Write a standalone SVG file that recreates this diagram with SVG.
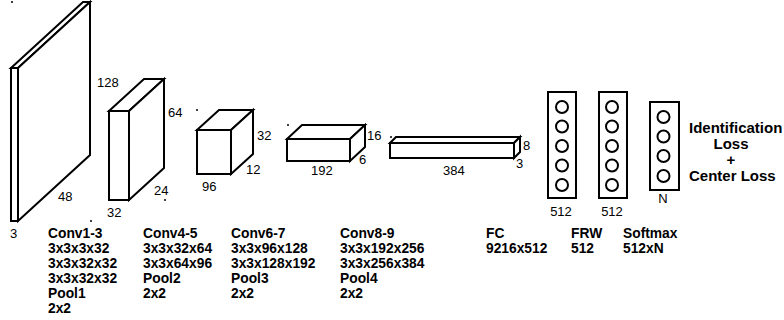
<svg xmlns="http://www.w3.org/2000/svg" width="784" height="320" viewBox="0 0 784 320">
<style>
.f{fill:#fff;stroke:#000;stroke-width:2;stroke-linejoin:miter}
.c{fill:#fff;stroke:#000;stroke-width:2}
.d{font-family:"Liberation Sans",Arial,sans-serif;font-size:13px;fill:#000}
.b{font-family:"Liberation Sans",Arial,sans-serif;font-size:13.8px;font-weight:bold;fill:#000}
.L{font-family:"Liberation Sans",Arial,sans-serif;font-size:15px;font-weight:bold;fill:#000}
.m{text-anchor:middle}
.dot{fill:#000}
</style>
<rect width="784" height="320" fill="#fff"/>
<g id="connectors"></g>
<g id="input">
<polygon class="f" points="11,68 83,2 90,2 18,68"/>
<polygon class="f" points="18,68 90,2 90,155 18,221"/>
<rect class="f" x="11" y="68" width="7" height="153"/>
<text class="d" x="97" y="87">128</text>
<text class="d" x="58" y="201">48</text>
<text class="d" x="10" y="238">3</text>
</g>
<g id="conv1">
<polygon class="f" points="109,111 144,79 164,79 129,111"/>
<polygon class="f" points="129,111 164,79 164,168 129,200"/>
<rect class="f" x="109" y="111" width="20" height="89"/>
<text class="d" x="168" y="117">64</text>
<text class="d" x="154" y="195">24</text>
<text class="d" x="107" y="217">32</text>
</g>
<g id="conv2">
<polygon class="f" points="197,130 219,110 253,110 231,130"/>
<polygon class="f" points="231,130 253,110 253,154 231,174"/>
<rect class="f" x="197" y="130" width="34" height="44"/>
<text class="d" x="257" y="140">32</text>
<text class="d" x="246" y="174">12</text>
<text class="d" x="202" y="191">96</text>
</g>
<g id="conv3">
<polygon class="f" points="287,139 302,125 365,125 350,139"/>
<polygon class="f" points="350,139 365,125 365,147 350,161"/>
<rect class="f" x="287" y="139" width="63" height="22"/>
<text class="d" x="367" y="140">16</text>
<text class="d" x="359" y="164">6</text>
<text class="d" x="311" y="175">192</text>
</g>
<g id="conv4">
<polygon class="f" points="390,143 396,137 520,137 514,143"/>
<polygon class="f" points="514,143 520,137 520,152 514,158"/>
<rect class="f" x="390" y="143" width="124" height="15"/>
<text class="d" x="523" y="150">8</text>
<text class="d" x="516" y="168">3</text>
<text class="d" x="443" y="175">384</text>
</g>
<g id="fc">
<rect class="f" x="548" y="92" width="28" height="106"/>
<circle class="c" cx="562" cy="107" r="6"/>
<circle class="c" cx="562" cy="126.5" r="6"/>
<circle class="c" cx="562" cy="146" r="6"/>
<circle class="c" cx="562" cy="165.5" r="6"/>
<circle class="c" cx="562" cy="185" r="6"/>
<text class="d m" x="561" y="216">512</text>
</g>
<g id="frw">
<rect class="f" x="599" y="92" width="28" height="106"/>
<circle class="c" cx="612" cy="107" r="6"/>
<circle class="c" cx="612" cy="126.5" r="6"/>
<circle class="c" cx="612" cy="146" r="6"/>
<circle class="c" cx="612" cy="165.5" r="6"/>
<circle class="c" cx="612" cy="185" r="6"/>
<text class="d m" x="612" y="216">512</text>
</g>
<g id="softmax">
<rect class="f" x="650" y="102" width="29" height="88"/>
<circle class="c" cx="663.5" cy="117" r="6"/>
<circle class="c" cx="663.5" cy="136.5" r="6"/>
<circle class="c" cx="663.5" cy="156" r="6"/>
<circle class="c" cx="663.5" cy="176" r="6"/>
<text class="d m" x="663" y="203">N</text>
</g>
<g id="loss">
<text class="L" x="689" y="133">Identification</text>
<text class="L m" x="731" y="149">Loss</text>
<text class="L m" x="731" y="165">+</text>
<text class="L" x="689" y="181">Center Loss</text>
</g>
<g id="specs">
<text class="b" x="48" y="238">Conv1-3</text>
<text class="b" x="48" y="253">3x3x3x32</text>
<text class="b" x="48" y="268">3x3x32x32</text>
<text class="b" x="48" y="283">3x3x32x32</text>
<text class="b" x="48" y="298">Pool1</text>
<text class="b" x="48" y="313">2x2</text>
<text class="b" x="143" y="238">Conv4-5</text>
<text class="b" x="143" y="253">3x3x32x64</text>
<text class="b" x="143" y="268">3x3x64x96</text>
<text class="b" x="143" y="283">Pool2</text>
<text class="b" x="143" y="298">2x2</text>
<text class="b" x="231" y="238">Conv6-7</text>
<text class="b" x="231" y="253">3x3x96x128</text>
<text class="b" x="231" y="268">3x3x128x192</text>
<text class="b" x="231" y="283">Pool3</text>
<text class="b" x="231" y="298">2x2</text>
<text class="b" x="340" y="238">Conv8-9</text>
<text class="b" x="340" y="253">3x3x192x256</text>
<text class="b" x="340" y="268">3x3x256x384</text>
<text class="b" x="340" y="283">Pool4</text>
<text class="b" x="340" y="298">2x2</text>
<text class="b" x="486" y="238">FC</text>
<text class="b" x="486" y="253">9216x512</text>
<text class="b" x="571" y="238">FRW</text>
<text class="b" x="571" y="253">512</text>
<text class="b" x="623" y="238">Softmax</text>
<text class="b" x="623" y="253">512xN</text>
</g>
<g id="dots">
<circle class="dot" cx="12" cy="2" r="1"/>
<circle class="dot" cx="91" cy="221" r="1"/>
<circle class="dot" cx="165" cy="200" r="1"/>
<circle class="dot" cx="197" cy="110" r="1"/>
<circle class="dot" cx="288" cy="125" r="1"/>
<circle class="dot" cx="391" cy="137" r="1"/>
</g>
</svg>
